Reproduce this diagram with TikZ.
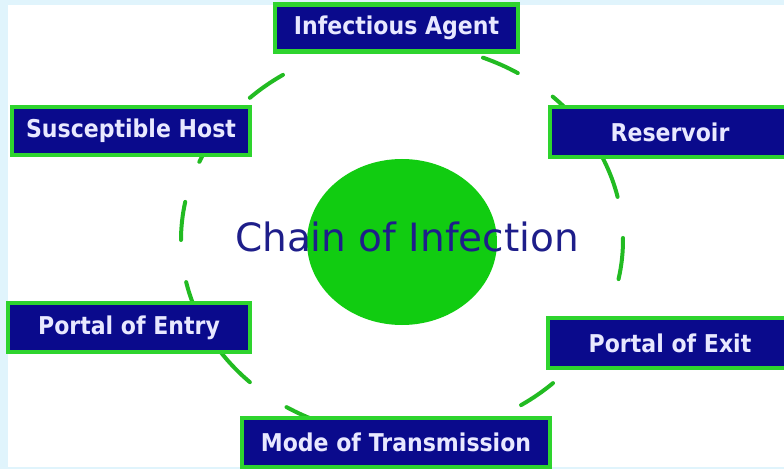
\documentclass[tikz,border=0pt]{standalone}
\usepackage{fontspec}
\setmainfont{DejaVu Sans}
\newfontfamily\boxfont[FakeStretch=0.9]{DejaVu Sans}
\definecolor{bgblue}{HTML}{E0F4FC}
\definecolor{navybox}{HTML}{0A0A8C}
\definecolor{greenb}{HTML}{2ED42E}
\definecolor{greenc}{HTML}{11CC11}
\definecolor{greend}{HTML}{22BB22}
\definecolor{boxtext}{HTML}{E8E8FF}
\definecolor{titleblue}{HTML}{1E1E8A}
\begin{document}
\begin{tikzpicture}[x=1pt,y=1pt,
  stage/.style={draw=greenb, line width=4.5pt, fill=navybox, text=boxtext,
    font=\boxfont\bfseries\fontsize{24.5}{30}\selectfont, inner sep=0pt,
    minimum width=#1},
  ringdash/.style={draw=greend, line width=4pt, line cap=round}]
\useasboundingbox (0,0) rectangle (784,469);
\fill[bgblue] (0,0) rectangle (784,469);
\fill[white] (8,2) rectangle (784,464);
\coordinate (ec) at (402,229);
\foreach \a/\b in {58.4/68.5, 38/47, 12.7/29, -11.5/0.6, -57.4/-46.9,
  -121.5/-112, -147/-133.5, -167.6/-156, 168.8/180, 140/156.5, 122.6/133.5}
  \draw[ringdash] ([shift={(\a:221 and 196)}]ec) arc[start angle=\a, end angle=\b, x radius=221, y radius=196];
\fill[greenc] (402,227) ellipse[x radius=95, y radius=83];
\node[text=titleblue, font=\fontsize{39}{45}\selectfont, inner sep=0pt] (title) at (407,232) {Chain of Infection};
\node[stage=243, minimum height=47] (agent) at (396.5,441) {Infectious Agent};
\node[stage=240, minimum height=50] (reservoir) at (670,337) {Reservoir};
\node[stage=238, minimum height=48] (host) at (131,338) {Susceptible Host};
\node[stage=242, minimum height=49] (entry) at (129,141.5) {Portal of Entry};
\node[stage=244, minimum height=50] (exit) at (670,126) {Portal of Exit};
\node[stage=308, minimum height=49] (mode) at (396,26.5) {Mode of Transmission};
\end{tikzpicture}
\end{document}
